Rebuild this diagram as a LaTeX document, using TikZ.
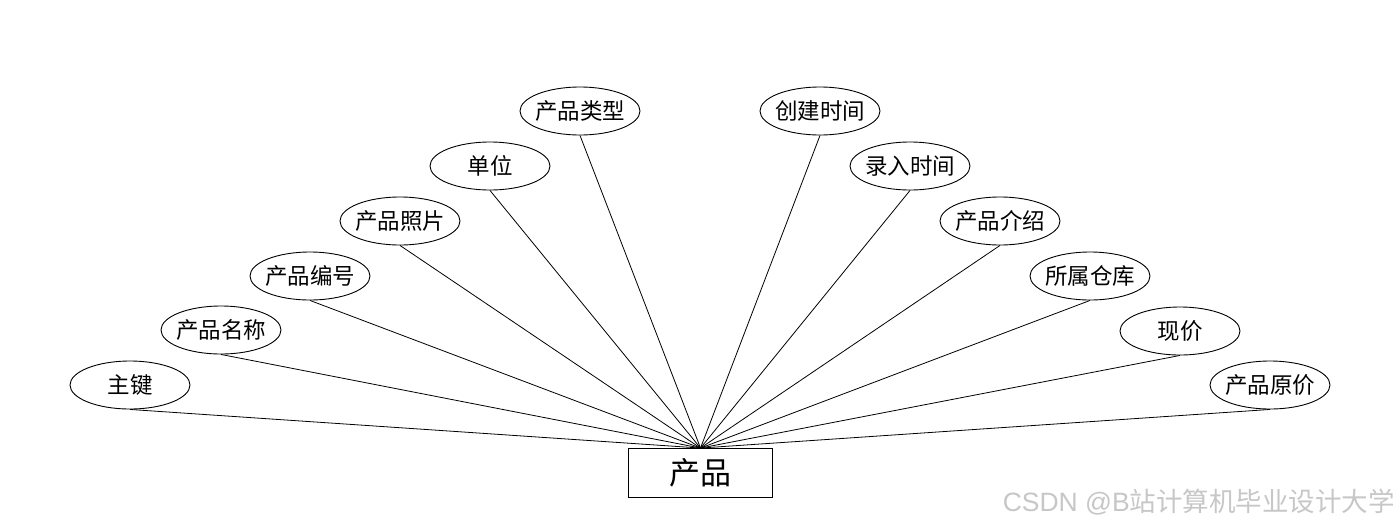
\documentclass[tikz,border=0pt]{standalone}
\usepackage{fontspec}
\newfontfamily\cjk{Noto Sans CJK SC}
\newfontfamily\wmlat{Liberation Sans}
\newcommand\zwbox[1]{\makebox[0pt]{#1}}
\usetikzlibrary{shapes.geometric}
\begin{document}
\begin{tikzpicture}[x=1pt,y=-1pt,
  attr/.style={draw,ellipse,line width=0.9pt,minimum width=120pt,minimum height=48pt,inner sep=0pt,
    font=\cjk\fontsize{22.5}{26}\selectfont},
  ent/.style={draw,rectangle,line width=0.9pt,minimum width=144pt,minimum height=49pt,inner sep=0pt,
    font=\cjk\fontsize{31}{34}\selectfont},
  conn/.style={line width=0.8pt}]
\useasboundingbox (0,0) rectangle (1400,528);
\fill[white] (0,0) rectangle (1400,528);
\node[ent] (e) at (700.5,473) {产品};
\node[attr] (a1) at (130,385) {\zwbox{主键}};
\node[attr] (a2) at (221,330) {\zwbox{产品名称}};
\node[attr] (a3) at (310,276) {\zwbox{产品编号}};
\node[attr] (a4) at (400,221) {\zwbox{产品照片}};
\node[attr] (a5) at (490,166) {\zwbox{单位}};
\node[attr] (a6) at (580,111) {\zwbox{产品类型}};
\node[attr] (b1) at (820,111) {\zwbox{创建时间}};
\node[attr] (b2) at (910,166) {\zwbox{录入时间}};
\node[attr] (b3) at (1000,221) {\zwbox{产品介绍}};
\node[attr] (b4) at (1090,276) {\zwbox{所属仓库}};
\node[attr] (b5) at (1180,331) {\zwbox{现价}};
\node[attr] (b6) at (1270,385) {\zwbox{产品原价}};
\foreach \n in {a1,a2,a3,a4,a5,a6,b1,b2,b3,b4,b5,b6}
  \draw[conn] (\n.south) -- (e.north);
\node[anchor=east,text=black!22,inner sep=0pt,font=\cjk\fontsize{26.5}{30}\selectfont] (wm) at (1395,502) {{\wmlat CSDN @B}站计算机毕业设计大学};
\end{tikzpicture}
\end{document}
